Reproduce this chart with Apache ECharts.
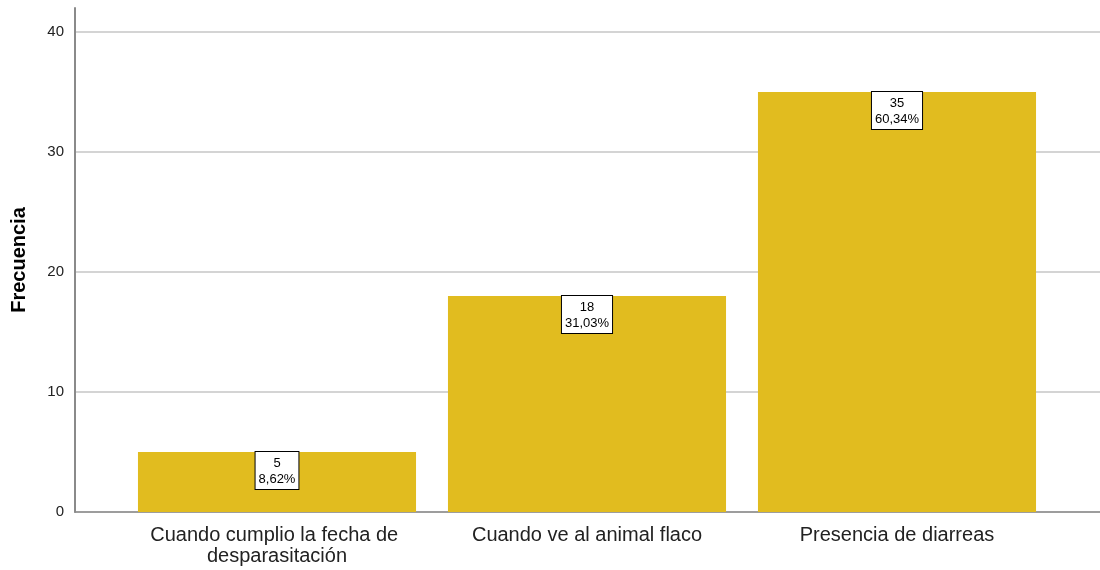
<!DOCTYPE html>
<html><head><meta charset="utf-8">
<script src="https://cdn.jsdelivr.net/npm/echarts@6/dist/echarts.min.js"></script>
<style>html,body{margin:0;padding:0;background:#fff}#c{width:1100px;height:570px}</style>
</head><body><div id="c"></div>
<script>
var categories = ["Cuando cumplio la fecha de desparasitación", "Cuando ve al animal flaco", "Presencia de diarreas"];
var values = [5, 18, 35];
var percents = ["8,62%", "31,03%", "60,34%"];
var yTicks = [0, 10, 20, 30, 40];

var chart = echarts.init(document.getElementById('c'), null, {renderer: 'canvas'});
var font = 'Arial, "Liberation Sans", sans-serif';
chart.setOption({
  animation: false,
  grid: [
    {left: 75, right: 0, top: 8, bottom: 58, containLabel: false, outerBoundsMode: 'none'},
    {left: 122, right: 48, top: 8, bottom: 58, containLabel: false, outerBoundsMode: 'none'}
  ],
  xAxis: [
    {gridIndex: 0, type: 'value', min: 0, max: 1, axisLine: {show: true, lineStyle: {color: '#8a8a8a', width: 1.5}},
     axisTick: {show: false}, axisLabel: {show: false}, splitLine: {show: false}},
    {gridIndex: 1, type: 'category', data: categories,
     axisLine: {show: false}, axisTick: {show: false},
     axisLabel: {fontFamily: font, fontSize: 20, color: '#222', margin: 13, lineHeight: 21,
       width: 275, overflow: 'break', interval: 0}}
  ],
  yAxis: [
    {gridIndex: 0, type: 'value', min: 0, max: 42, interval: 10,
     name: 'Frecuencia', nameLocation: 'middle', nameGap: 46,
     nameTextStyle: {fontFamily: font, fontSize: 20, fontWeight: 'bold', color: '#000'},
     axisLine: {show: true, lineStyle: {color: '#8a8a8a', width: 2}},
     axisTick: {show: false},
     axisLabel: {fontFamily: font, fontSize: 15, color: '#222', margin: 11, showMaxLabel: false,
       formatter: function(v){ return yTicks.indexOf(v) >= 0 ? String(v) : ''; }},
     splitLine: {show: true, showMaxLine: false, lineStyle: {color: '#d4d4d4', width: 2}}},
    {gridIndex: 1, type: 'value', min: 0, max: 42, interval: 10, show: false, splitLine: {show: false}}
  ],
  series: [{
    type: 'bar', xAxisIndex: 1, yAxisIndex: 1,
    data: values, barCategoryGap: '10.3%',
    itemStyle: {color: '#E1BC1F'},
    label: {
      show: true, position: 'insideTop', distance: 0,
      formatter: function(p){ return p.value + '\n' + percents[p.dataIndex]; },
      fontFamily: font, fontSize: 13, lineHeight: 16, color: '#000',
      backgroundColor: '#fff', borderColor: '#000', borderWidth: 1, padding: [3, 3, 2, 3]
    }
  }]
});
</script></body></html>
